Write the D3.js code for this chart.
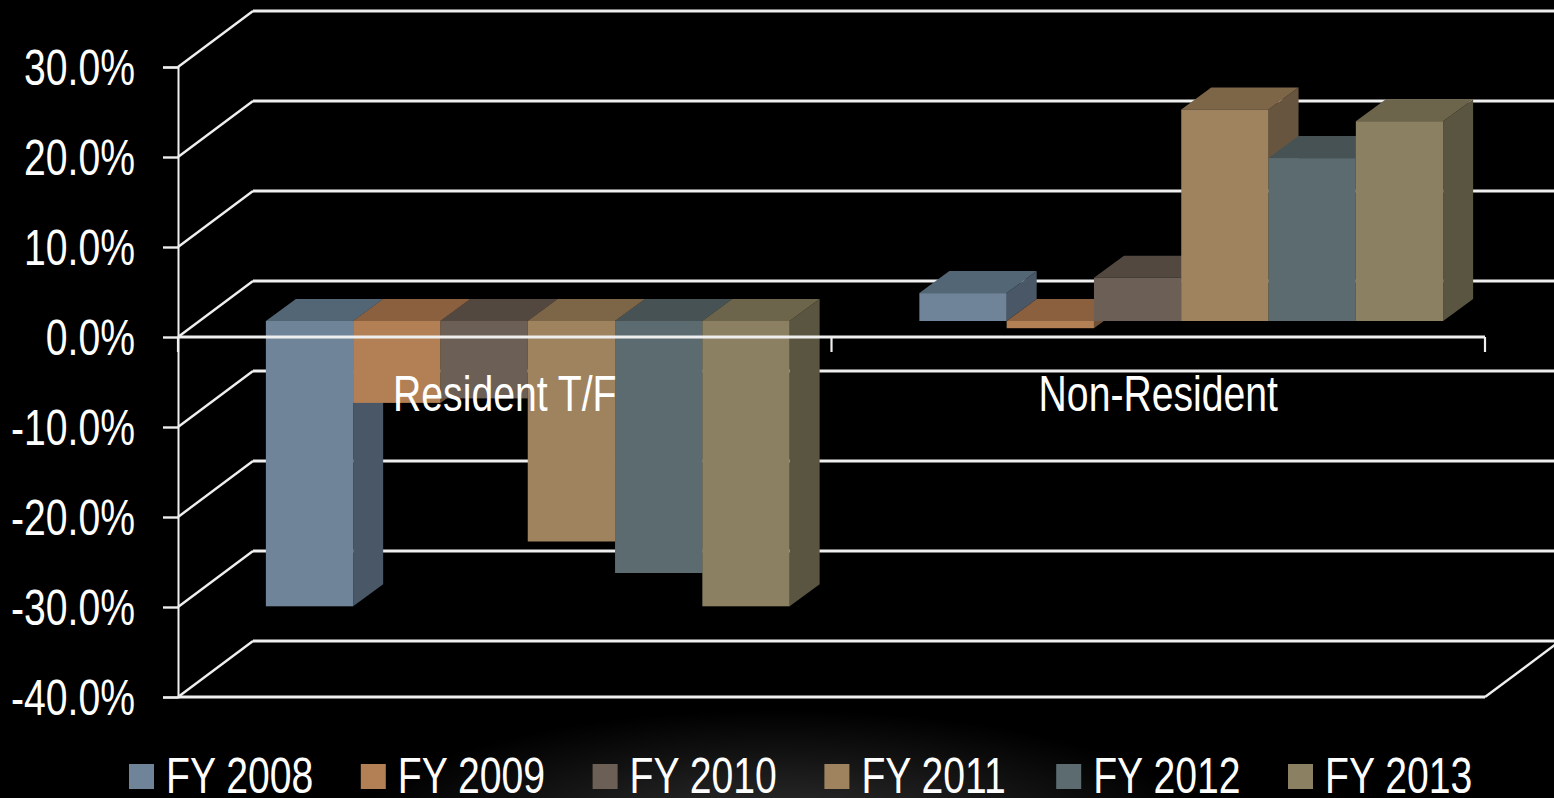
<!DOCTYPE html>
<html><head><meta charset="utf-8">
<script src="https://cdn.jsdelivr.net/npm/d3@7"></script>
<style>html,body{margin:0;padding:0;background:#000;overflow:hidden}svg{display:block}
text{font-family:"Liberation Sans",sans-serif;fill:#fff}</style>
</head><body><svg id="c" width="1554" height="798"></svg>
<script>
const categories = ["Resident T/F", "Non-Resident"];
const seriesNames = ["FY 2008", "FY 2009", "FY 2010", "FY 2011", "FY 2012", "FY 2013"];
const residentValues = [-31.7, -9.1, -8.6, -24.5, -28.0, -31.7];
const nonResidentValues = [3.1, -0.8, 4.8, 23.5, 18.1, 22.2];
const yTickValues = [30, 20, 10, 0, -10, -20, -30, -40];
const frontColors = ["#6f8499", "#b38055", "#6c5f55", "#9f835f", "#5b6b70", "#8b8162"];
const topColors = ["#536676", "#8a603f", "#524840", "#7d6548", "#465254", "#6c654b"];
const sideColors = ["#495766", "#6f4f35", "#4d443c", "#67553f", "#414c50", "#5a5540"];

const W = 1554, H = 798, FS = 50, NARROW = 0.783;
const svg = d3.select("#c");
const defs = svg.append("defs");
const glow = defs.append("radialGradient").attr("id", "glow").attr("gradientUnits", "userSpaceOnUse")
  .attr("cx", 0).attr("cy", 0).attr("r", 1)
  .attr("gradientTransform", "translate(780 835) scale(430 125)");
glow.append("stop").attr("offset", "0").attr("stop-color", "#333");
glow.append("stop").attr("offset", "0.5").attr("stop-color", "#1a1a1a");
glow.append("stop").attr("offset", "1").attr("stop-color", "#000");
svg.append("rect").attr("width", W).attr("height", H).attr("fill", "#000");
svg.append("rect").attr("width", W).attr("height", H).attr("fill", "url(#glow)");

const y = d3.scaleLinear().domain([-40, 30]).range([697, 67]);
const x0 = d3.scaleBand().domain(categories).range([178, 1485]);
const x1 = d3.scaleBand().domain(seriesNames).range([0, x0.bandwidth()]).paddingInner(0).paddingOuter(0.743);
const wall = {dx: 75, dy: -56}, bar = {dx: 23, dy: -16}, depth = {dx: 30, dy: -22};
const poly = pts => pts.map(p => p.join(",")).join(" ");
const white = "#efefef";

// back wall and side wall lines
const grid = svg.append("g").attr("fill", "none").attr("stroke", white);
grid.selectAll(".back").data(yTickValues).join("line")
  .attr("x1", x0.range()[0] + wall.dx).attr("x2", x0.range()[1] + wall.dx)
  .attr("y1", d => y(d) + wall.dy).attr("y2", d => y(d) + wall.dy).attr("stroke-width", 2.8);
grid.selectAll(".diag").data(yTickValues).join("line")
  .attr("x1", x0.range()[0]).attr("x2", x0.range()[0] + wall.dx)
  .attr("y1", d => y(d)).attr("y2", d => y(d) + wall.dy).attr("stroke-width", 2.4);
// floor
grid.append("line").attr("x1", x0.range()[0]).attr("x2", x0.range()[1]).attr("y1", y(-40)).attr("y2", y(-40)).attr("stroke-width", 2.8);
grid.append("line").attr("x1", x0.range()[1]).attr("x2", x0.range()[1] + wall.dx).attr("y1", y(-40)).attr("y2", y(-40) + wall.dy).attr("stroke-width", 2.4);

// 3-D bars
const seriesByCat = [residentValues, nonResidentValues];
categories.forEach((cat, ci) => {
  const g = svg.append("g");
  seriesByCat[ci].forEach((v, i) => {
    const s = seriesNames[i];
    const l = x0(cat) + x1(s) + bar.dx, r = l + x1.bandwidth();
    const y0 = y(0) + bar.dy, yv = y(v) + bar.dy;
    const t = Math.min(y0, yv), b = Math.max(y0, yv);
    g.append("polygon").attr("fill", sideColors[i])
      .attr("points", poly([[r, t], [r + depth.dx, t + depth.dy], [r + depth.dx, b + depth.dy], [r, b]]));
    g.append("polygon").attr("fill", topColors[i])
      .attr("points", poly([[l, t], [l + depth.dx, t + depth.dy], [r + depth.dx, t + depth.dy], [r, t]]));
    g.append("rect").attr("fill", frontColors[i]).attr("x", l).attr("y", t).attr("width", r - l).attr("height", b - t);
  });
});

// y axis
const yAxis = d3.axisLeft(y).tickValues(yTickValues).tickSize(15).tickPadding(28)
  .tickFormat(d => d.toFixed(1) + "%");
const ya = svg.append("g").attr("transform", "translate(178,0)").call(yAxis);
ya.select(".domain").attr("stroke", white).attr("stroke-width", 2);
ya.selectAll(".tick line").attr("stroke", white).attr("stroke-width", 2.4);
ya.selectAll(".tick text").attr("x", 0).attr("dy", 17)
  .attr("transform", `translate(-43,0) scale(${NARROW},1)`)
  .attr("font-size", FS).attr("fill", "#fff")
  .attr("style", 'font-family:"Liberation Sans",sans-serif');

// x axis at zero
const xAxisLine = svg.append("g");
xAxisLine.append("line").attr("x1", x0.range()[0]).attr("x2", x0.range()[1]).attr("y1", y(0)).attr("y2", y(0))
  .attr("stroke", white).attr("stroke-width", 2.8);
const xEdges = [x0(categories[0]), x0(categories[1]), x0(categories[1]) + x0.bandwidth()];
xAxisLine.selectAll(".t").data(xEdges).join("line")
  .attr("x1", d => d).attr("x2", d => d).attr("y1", y(0)).attr("y2", y(0) + 15)
  .attr("stroke", white).attr("stroke-width", 2.2);
svg.selectAll(".cat").data(categories).join("text")
  .attr("transform", d => `translate(${x0(d) + x0.bandwidth() / 2},411) scale(${NARROW},1)`)
  .attr("text-anchor", "middle").attr("font-size", FS).text(d => d);

// legend
const legendX = d3.scalePoint().domain(seriesNames).range([129, 1288]);
const lg = svg.selectAll(".lg").data(seriesNames).join("g").attr("transform", d => `translate(${legendX(d)},0)`);
lg.append("rect").attr("y", 764).attr("width", 25).attr("height", 25).attr("fill", (d, i) => frontColors[i]);
lg.append("text").attr("transform", `translate(37,793) scale(${NARROW},1)`).attr("font-size", FS).text(d => d);
</script></body></html>
